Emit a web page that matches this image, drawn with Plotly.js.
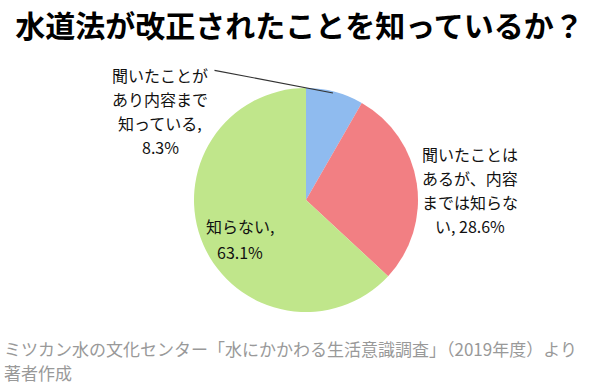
<!DOCTYPE html>
<html><head><meta charset="utf-8">
<script src="https://cdn.plot.ly/plotly-3.0.1.min.js"></script>
<style>body{margin:0;background:#fff}#c{width:599px;height:389px}</style>
</head><body><div id="c"></div>
<script>
const categories = ["聞いたことがあり内容まで知っている", "聞いたことはあるが、内容までは知らない", "知らない"];
const values = [8.3, 28.6, 63.1];
const labelTexts = [
  "聞いたことが<br>あり内容まで<br>知っている,<br>8.3%",
  "聞いたことは<br>あるが、内容<br>までは知らな<br>い, 28.6%",
  "知らない,<br>63.1%"
];
const sliceColors = ["#8fbbef", "#f27f83", "#c0e68b"];
const titleText = "水道法が改正されたことを知っているか？";
const sourceText = "ミツカン水の文化センター「水にかかわる生活意識調査」（2019年度）より<br>著者作成";

const font = "'Noto Sans CJK JP', 'Noto Sans', sans-serif";
const trace = {
  type: "pie",
  labels: categories,
  values: values,
  sort: false,
  direction: "clockwise",
  rotation: 0,
  textinfo: "none",
  hoverinfo: "label+percent",
  marker: {colors: sliceColors, line: {width: 0}},
  showlegend: false
};
const W = 599, H = 389;
const px2x = v => (v - 194) / 224;
const px2y = v => 1 - (v - 88) / 224;
// first-line centre of each label block, and line step (pixels)
const labelPos = [
  {x: 160, y: 75},
  {x: 470, y: 154},
  {x: 240, y: 226}
];
const lineStep = [24, 24, 26];
const annotations = [];
labelTexts.forEach((t, i) => {
  t.split("<br>").forEach((line, j) => {
    annotations.push({
      text: line, xref: "paper", yref: "paper", showarrow: false,
      x: px2x(labelPos[i].x), y: px2y(labelPos[i].y + j * lineStep[i]),
      xanchor: "center", yanchor: "middle", align: "center",
      font: {family: font, size: 16, color: "#111"}
    });
  });
});
// leader line for small slice
annotations.push({
  text: "", xref: "paper", yref: "paper", showarrow: true,
  x: px2x(333), y: px2y(93),
  ax: 213 - 333, ay: 70 - 93, arrowhead: 0, arrowwidth: 1.2, arrowcolor: "#333"
});
sourceText.split("<br>").forEach((line, j) => {
  annotations.push({
    text: line, xref: "paper", yref: "paper", showarrow: false,
    x: px2x(3), y: px2y(348 + j * 24), xanchor: "left", yanchor: "middle", align: "left",
    borderpad: 0,
    font: {family: font, size: 17, color: "#999"}
  });
});
const layout = {
  width: W, height: H,
  margin: {l: 194, r: 181, t: 88, b: 77},
  paper_bgcolor: "#fff",
  title: {text: "<b>" + titleText + "</b>", x: 0.5, xref: "container", y: 1 - 26 / H, yanchor: "middle",
    font: {family: font, size: 30, color: "#000"}},
  annotations: annotations
};
Plotly.newPlot("c", [trace], layout, {displayModeBar: false, staticPlot: true});
</script></body></html>
